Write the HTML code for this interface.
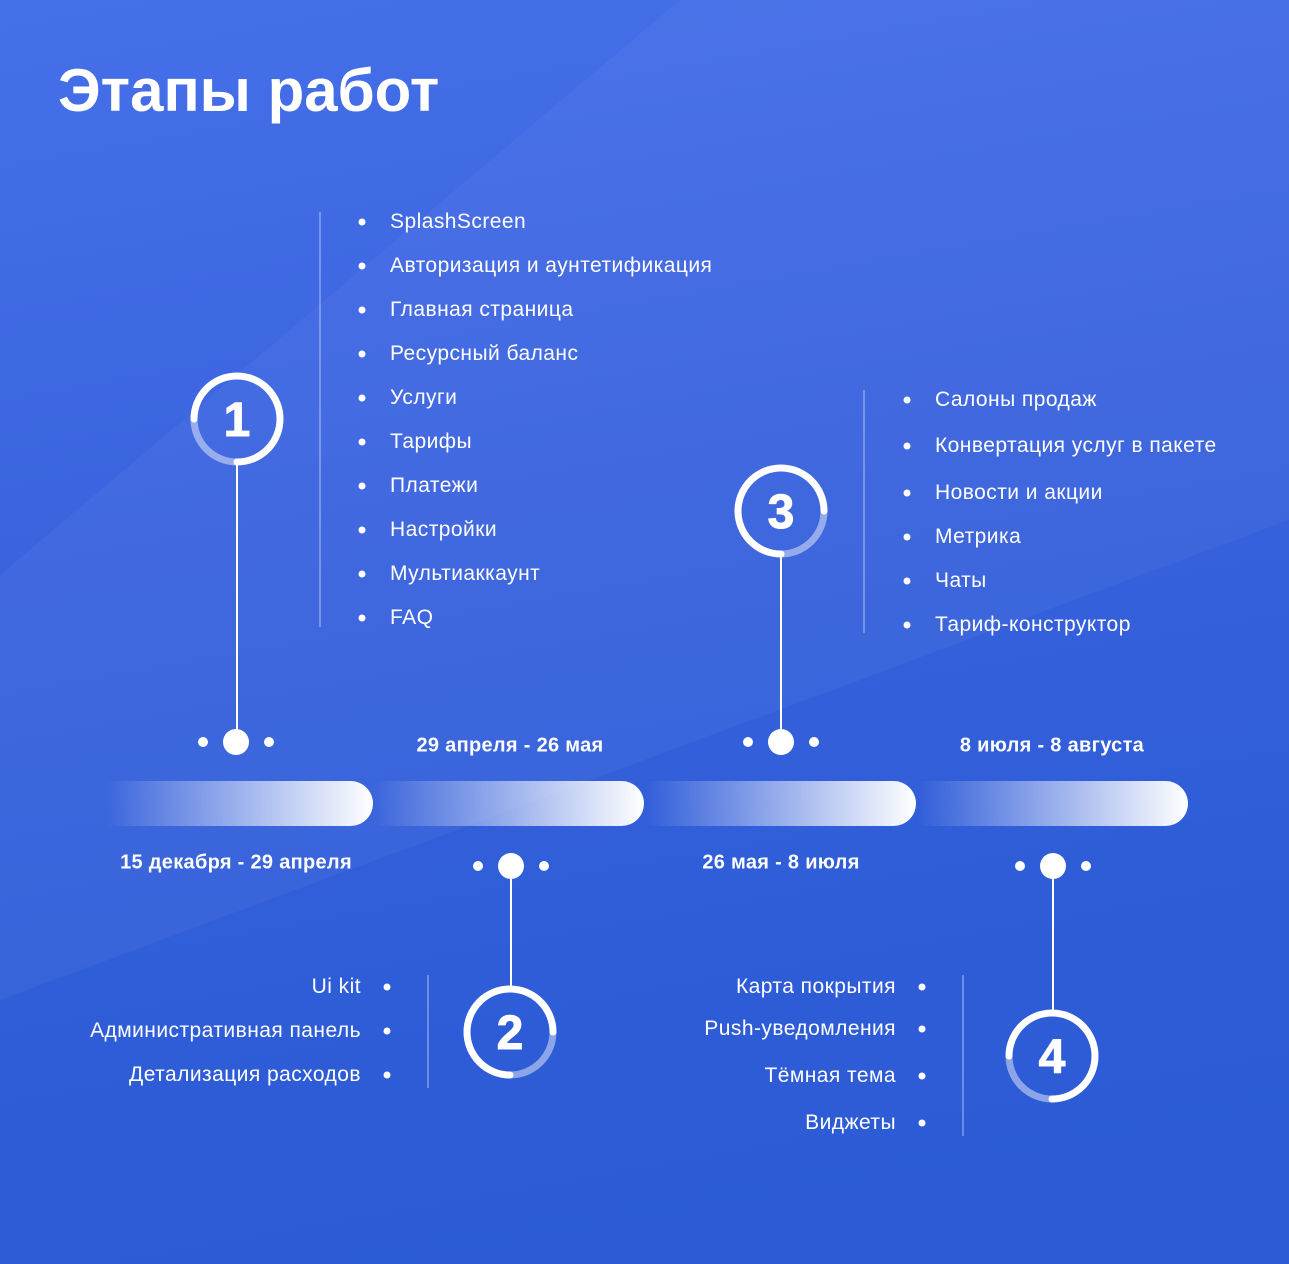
<!DOCTYPE html><html><head><meta charset="utf-8"><style>
body{margin:0;width:1289px;height:1264px;overflow:hidden;font-family:"Liberation Sans","DejaVu Sans",sans-serif;color:#fff}
#bg{position:absolute;left:0;top:0;width:1289px;height:1264px;background:linear-gradient(170deg,#4670ea 0%,#3a62de 40%,#2f5dd8 70%,#2b5ad4 100%);overflow:hidden}
.t{position:absolute;white-space:nowrap;font-size:21px;letter-spacing:0.45px;line-height:24px;transform:translateY(-12px)}
.b{position:absolute;width:7px;height:7px;border-radius:50%;background:#fff;transform:translate(-3.5px,-3.5px)}
.d{position:absolute;font-weight:bold;font-size:20px;letter-spacing:0.3px;white-space:nowrap;transform:translate(-50%,-50%)}
.vl{position:absolute;width:2px;background:rgba(255,255,255,.3)}
.bar{position:absolute;top:781px;height:45px;border-radius:0 23px 23px 0;background:linear-gradient(90deg,rgba(255,255,255,0),rgba(255,255,255,.45) 45%,#fff)}
.r{text-align:right;transform:translate(-100%,-12px)}
</style></head><body><div id="bg">
<svg width="1289" height="1264" style="position:absolute;left:0;top:0">
<polygon points="0,575 680,0 1289,0 1289,520 0,1000" fill="rgba(255,255,255,0.04)"/>
<g stroke="#fff" fill="none">
<line x1="237" y1="463" x2="237" y2="742" stroke-width="2"/>
<line x1="511" y1="866" x2="511" y2="988" stroke-width="2"/>
<line x1="781" y1="556" x2="781" y2="742" stroke-width="2"/>
<line x1="1053" y1="866" x2="1053" y2="1010" stroke-width="2"/>
</g>
<g fill="#fff">
<circle cx="203" cy="742" r="5"/><circle cx="236" cy="742" r="13"/><circle cx="269" cy="742" r="5"/>
<circle cx="478" cy="866" r="5"/><circle cx="511" cy="866" r="13"/><circle cx="544" cy="866" r="5"/>
<circle cx="748" cy="742" r="5"/><circle cx="781" cy="742" r="13"/><circle cx="814" cy="742" r="5"/>
<circle cx="1020" cy="866" r="5"/><circle cx="1053" cy="866" r="13"/><circle cx="1086" cy="866" r="5"/>
</g>
<g fill="none" stroke-width="7" stroke-linecap="round">
<path d="M194,419 A43,43 0 1 1 237,462" stroke="#fff"/><path d="M237,462 A43,43 0 0 1 194,419" stroke="rgba(255,255,255,0.45)"/>
<path d="M510,1075 A43,43 0 1 1 553,1032" stroke="#fff"/><path d="M553,1032 A43,43 0 0 1 510,1075" stroke="rgba(255,255,255,0.45)"/>
<path d="M781,554 A43,43 0 1 1 824,511" stroke="#fff"/><path d="M824,511 A43,43 0 0 1 781,554" stroke="rgba(255,255,255,0.45)"/>
<path d="M1009,1056 A43,43 0 1 1 1052,1099" stroke="#fff"/><path d="M1052,1099 A43,43 0 0 1 1009,1056" stroke="rgba(255,255,255,0.45)"/>
</g>
<g fill="#fff" stroke="#fff" stroke-width="1" font-family="Liberation Sans,sans-serif" font-weight="bold" font-size="48" text-anchor="middle">
<text x="237" y="436">1</text><text x="510" y="1049">2</text><text x="781" y="528">3</text><text x="1052" y="1073">4</text>
</g>
</svg>
<div style="position:absolute;left:58px;top:56px;font-size:60px;font-weight:bold;line-height:70px">Этапы работ</div>
<div class="vl" style="left:319px;top:212px;height:415px"></div>
<div class="vl" style="left:863px;top:390px;height:243px"></div>
<div class="vl" style="left:427px;top:975px;height:113px"></div>
<div class="vl" style="left:962px;top:975px;height:161px"></div>
<div class="bar" style="left:106px;width:267px"></div>
<div class="bar" style="left:374px;width:270px"></div>
<div class="bar" style="left:646px;width:270px"></div>
<div class="bar" style="left:918px;width:270px"></div>
<div class="d" style="left:510px;top:746px">29 апреля - 26 мая</div>
<div class="d" style="left:1052px;top:746px">8 июля - 8 августа</div>
<div class="d" style="left:236px;top:863px">15 декабря - 29 апреля</div>
<div class="d" style="left:781px;top:863px">26 мая - 8 июля</div>

<div class="b" style="left:362px;top:222px"></div><div class="t" style="left:390px;top:222px">SplashScreen</div>
<div class="b" style="left:362px;top:266px"></div><div class="t" style="left:390px;top:266px">Авторизация и аунтетификация</div>
<div class="b" style="left:362px;top:310px"></div><div class="t" style="left:390px;top:310px">Главная страница</div>
<div class="b" style="left:362px;top:354px"></div><div class="t" style="left:390px;top:354px">Ресурсный баланс</div>
<div class="b" style="left:362px;top:398px"></div><div class="t" style="left:390px;top:398px">Услуги</div>
<div class="b" style="left:362px;top:442px"></div><div class="t" style="left:390px;top:442px">Тарифы</div>
<div class="b" style="left:362px;top:486px"></div><div class="t" style="left:390px;top:486px">Платежи</div>
<div class="b" style="left:362px;top:530px"></div><div class="t" style="left:390px;top:530px">Настройки</div>
<div class="b" style="left:362px;top:574px"></div><div class="t" style="left:390px;top:574px">Мультиаккаунт</div>
<div class="b" style="left:362px;top:618px"></div><div class="t" style="left:390px;top:618px">FAQ</div>

<div class="b" style="left:907px;top:400px"></div><div class="t" style="left:935px;top:400px">Салоны продаж</div>
<div class="b" style="left:907px;top:446px"></div><div class="t" style="left:935px;top:446px">Конвертация услуг в пакете</div>
<div class="b" style="left:907px;top:493px"></div><div class="t" style="left:935px;top:493px">Новости и акции</div>
<div class="b" style="left:907px;top:537px"></div><div class="t" style="left:935px;top:537px">Метрика</div>
<div class="b" style="left:907px;top:581px"></div><div class="t" style="left:935px;top:581px">Чаты</div>
<div class="b" style="left:907px;top:625px"></div><div class="t" style="left:935px;top:625px">Тариф-конструктор</div>

<div class="b" style="left:387px;top:987px"></div><div class="t r" style="left:361px;top:987px">Ui kit</div>
<div class="b" style="left:387px;top:1031px"></div><div class="t r" style="left:361px;top:1031px">Административная панель</div>
<div class="b" style="left:387px;top:1075px"></div><div class="t r" style="left:361px;top:1075px">Детализация расходов</div>

<div class="b" style="left:922px;top:987px"></div><div class="t r" style="left:896px;top:987px">Карта покрытия</div>
<div class="b" style="left:922px;top:1029px"></div><div class="t r" style="left:896px;top:1029px">Push-уведомления</div>
<div class="b" style="left:922px;top:1076px"></div><div class="t r" style="left:896px;top:1076px">Тёмная тема</div>
<div class="b" style="left:922px;top:1123px"></div><div class="t r" style="left:896px;top:1123px">Виджеты</div>
</div></body></html>
